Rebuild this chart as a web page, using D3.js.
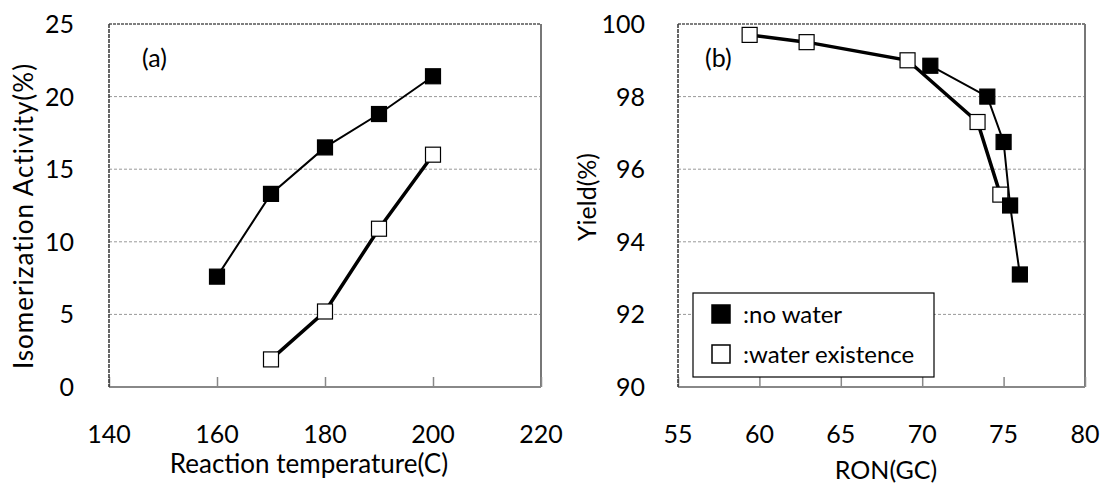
<!DOCTYPE html>
<html>
<head>
<meta charset="utf-8">
<script src="https://cdn.jsdelivr.net/npm/d3@7"></script>
<style>
  body { margin: 0; background: #fff; }
  svg { font-family: Lato, "Open Sans", sans-serif; }
</style>
</head>
<body>
<svg id="chart" width="1106" height="483"></svg>
<script>
// panel (a): isomerization activity vs temperature
let tempNoWater = [160, 170, 180, 190, 200];
let actNoWater = [7.6, 13.3, 16.5, 18.8, 21.4];
let tempWater = [170, 180, 190, 200];
let actWater = [1.9, 5.2, 10.9, 16.0];
let ticksA_x = [140, 160, 180, 200, 220];
let ticksA_y = [0, 5, 10, 15, 20, 25];

// panel (b): yield vs RON
let ronNoWater = [70.5, 74.0, 75.0, 75.4, 76.0];
let yieldNoWater = [98.85, 98.0, 96.75, 95.0, 93.1];
let ronWater = [59.4, 62.9, 69.1, 73.4, 74.8];
let yieldWater = [99.7, 99.5, 99.0, 97.3, 95.3];
let ticksB_x = [55, 60, 65, 70, 75, 80];
let ticksB_y = [90, 92, 94, 96, 98, 100];

let legendLabels = [":no water", ":water existence"];

let svg = d3.select("#chart");

function drawPanel(opt) {
    let g = svg.append("g");
    let x = d3.scaleLinear().domain(opt.xDomain).range([opt.left, opt.right]);
    let y = d3.scaleLinear().domain(opt.yDomain).range([opt.bottom, opt.top]);

    // gridlines
    g.selectAll(".grid")
        .data(opt.yTicks.slice(1, -1))
        .enter().append("line")
        .attr("x1", opt.left).attr("x2", opt.right)
        .attr("y1", d => y(d)).attr("y2", d => y(d))
        .attr("stroke", "#999").attr("stroke-width", 1)
        .attr("stroke-dasharray", "3,2");

    // frame: top + right
    g.append("line")
        .attr("x1", opt.left).attr("x2", opt.right)
        .attr("y1", opt.top).attr("y2", opt.top)
        .attr("stroke", "#555").attr("stroke-width", 1.5)
        .attr("stroke-dasharray", "3,1");
    g.append("line")
        .attr("x1", opt.right).attr("x2", opt.right)
        .attr("y1", opt.top).attr("y2", opt.bottom)
        .attr("stroke", "#777").attr("stroke-width", 2);

    // x axis (ticks pointing up into plot)
    let xAxis = d3.axisTop(x).tickValues(opt.xTicks).tickSize(10).tickFormat("");
    let xg = g.append("g")
        .attr("transform", "translate(0," + opt.bottom + ")")
        .call(xAxis);
    xg.select(".domain").remove();
    xg.selectAll("line").attr("stroke", "#888").attr("stroke-width", 1.5);
    g.append("line")
        .attr("x1", opt.left).attr("x2", opt.right)
        .attr("y1", opt.bottom).attr("y2", opt.bottom)
        .attr("stroke", "#888").attr("stroke-width", 2);

    g.selectAll(".xlab")
        .data(opt.xTicks)
        .enter().append("text")
        .attr("x", d => x(d))
        .attr("y", opt.bottom + 56)
        .attr("text-anchor", "middle")
        .attr("font-size", 25)
        .text(d => d);

    // y axis
    g.append("line")
        .attr("x1", opt.left).attr("x2", opt.left)
        .attr("y1", opt.top).attr("y2", opt.bottom)
        .attr("stroke", "#333").attr("stroke-width", 1.5)
        .attr("stroke-dasharray", "4,1");
    g.selectAll(".ylab")
        .data(opt.yTicks)
        .enter().append("text")
        .attr("x", opt.yLabelX)
        .attr("y", d => y(d) + 9)
        .attr("text-anchor", "end")
        .attr("font-size", 25)
        .text(d => d);

    // axis titles
    g.append("text")
        .attr("x", opt.xTitleX).attr("y", opt.xTitleY)
        .attr("text-anchor", "middle")
        .attr("font-size", opt.xTitleSize)
        .text(opt.xTitle);
    g.append("text")
        .attr("transform", "translate(" + opt.yTitleX + "," + opt.yTitleY + ") rotate(-90)")
        .attr("text-anchor", "middle")
        .attr("font-size", opt.yTitleSize)
        .attr("letter-spacing", opt.yTitleSpacing)
        .text(opt.yTitle);

    // panel tag
    g.append("text")
        .attr("x", opt.tagX).attr("y", opt.tagY)
        .attr("font-size", 25)
        .text(opt.tag);

    let line = d3.line().x(d => x(d[0])).y(d => y(d[1]));
    let water = opt.xWater.map((v, i) => [v, opt.yWater[i]]);
    let dry = opt.xDry.map((v, i) => [v, opt.yDry[i]]);

    g.append("path").datum(water).attr("d", line)
        .attr("fill", "none").attr("stroke", "#000").attr("stroke-width", 3.5);
    g.append("path").datum(dry).attr("d", line)
        .attr("fill", "none").attr("stroke", "#000").attr("stroke-width", 2);

    let s = 15;
    g.selectAll(".mw").data(water).enter().append("rect")
        .attr("x", d => x(d[0]) - s / 2).attr("y", d => y(d[1]) - s / 2)
        .attr("width", s).attr("height", s)
        .attr("fill", "#fff").attr("stroke", "#000").attr("stroke-width", 1.2);
    g.selectAll(".md").data(dry).enter().append("rect")
        .attr("x", d => x(d[0]) - s / 2).attr("y", d => y(d[1]) - s / 2)
        .attr("width", s).attr("height", s)
        .attr("fill", "#000").attr("stroke", "#000").attr("stroke-width", 1.2);

    return g;
}

drawPanel({
    left: 109, right: 541, top: 24, bottom: 387,
    xDomain: [140, 220], yDomain: [0, 25],
    xTicks: ticksA_x, yTicks: ticksA_y,
    yLabelX: 74, xTitleX: 309, xTitleY: 473, yTitleX: 33, yTitleY: 216,
    xTitleSize: 26, yTitleSize: 26, yTitleSpacing: 1,
    xTitle: "Reaction temperature(C)", yTitle: "Isomerization Activity(%)",
    tag: "(a)", tagX: 142, tagY: 67,
    xDry: tempNoWater, yDry: actNoWater, xWater: tempWater, yWater: actWater
});

let gb = drawPanel({
    left: 678, right: 1085, top: 24, bottom: 387,
    xDomain: [55, 80], yDomain: [90, 100],
    xTicks: ticksB_x, yTicks: ticksB_y,
    yLabelX: 645, xTitleX: 886, xTitleY: 479, yTitleX: 596, yTitleY: 197,
    xTitleSize: 25, yTitleSize: 25, yTitleSpacing: 0,
    xTitle: "RON(GC)", yTitle: "Yield(%)",
    tag: "(b)", tagX: 705, tagY: 67,
    xDry: ronNoWater, yDry: yieldNoWater, xWater: ronWater, yWater: yieldWater
});

// legend
let leg = gb.append("g").attr("transform", "translate(693,293)");
leg.append("rect")
    .attr("width", 241).attr("height", 84)
    .attr("fill", "#fff").attr("stroke", "#000").attr("stroke-width", 1.2);
legendLabels.forEach((lab, i) => {
    let row = leg.append("g").attr("transform", "translate(0," + (i * 40) + ")");
    row.append("rect")
        .attr("x", 19).attr("y", 12).attr("width", 18).attr("height", 18)
        .attr("fill", i === 0 ? "#000" : "#fff")
        .attr("stroke", "#000").attr("stroke-width", 1.5);
    row.append("text")
        .attr("x", 50).attr("y", 30)
        .attr("font-size", 24)
        .text(lab);
});
</script>
</body>
</html>
